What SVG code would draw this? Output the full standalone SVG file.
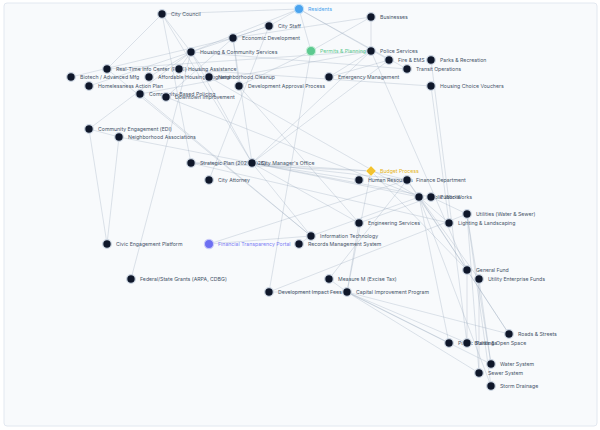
<svg xmlns="http://www.w3.org/2000/svg" width="600" height="430" viewBox="0 0 600 430">
<defs>
<style>
.bg{fill:#f8fafc;stroke:#e2e8f0;stroke-width:1}
.e line{stroke:#94a3b8;stroke-opacity:0.5;stroke-width:0.6}
.n circle{fill:#0f172a;stroke:#cbd5e1;stroke-width:1.2}
.n text{font-family:Inter,"Liberation Sans",sans-serif;font-size:5.2px;fill:#475569}
</style>
</defs>
<rect x="0" y="0" width="600" height="430" fill="#ffffff"/>
<rect class="bg" x="4" y="3" width="593" height="423" rx="3"/>
<g id="connectors" class="e">
<line x1="299" y1="9" x2="162" y2="14"/>
<line x1="299" y1="9" x2="269" y2="26"/>
<line x1="299" y1="9" x2="191" y2="52"/>
<line x1="299" y1="9" x2="311" y2="51"/>
<line x1="299" y1="9" x2="389" y2="60"/>
<line x1="299" y1="9" x2="407" y2="69"/>
<line x1="371" y1="17" x2="371" y2="51"/>
<line x1="371" y1="17" x2="311" y2="51"/>
<line x1="371" y1="17" x2="233" y2="38"/>
<line x1="162" y1="14" x2="191" y2="52"/>
<line x1="162" y1="14" x2="252" y2="163"/>
<line x1="162" y1="14" x2="191" y2="163"/>
<line x1="162" y1="14" x2="107" y2="69"/>
<line x1="269" y1="26" x2="233" y2="38"/>
<line x1="269" y1="26" x2="209" y2="180"/>
<line x1="269" y1="26" x2="191" y2="52"/>
<line x1="191" y1="52" x2="179" y2="69"/>
<line x1="191" y1="52" x2="149" y2="77"/>
<line x1="191" y1="52" x2="89" y2="86"/>
<line x1="191" y1="52" x2="209" y2="77"/>
<line x1="191" y1="52" x2="407" y2="69"/>
<line x1="179" y1="69" x2="431" y2="86"/>
<line x1="131" y1="279" x2="191" y2="52"/>
<line x1="233" y1="38" x2="71" y2="77"/>
<line x1="233" y1="38" x2="166" y2="97"/>
<line x1="233" y1="38" x2="239" y2="86"/>
<line x1="311" y1="51" x2="239" y2="86"/>
<line x1="311" y1="51" x2="269" y2="292"/>
<line x1="371" y1="51" x2="140" y2="94"/>
<line x1="371" y1="51" x2="107" y2="69"/>
<line x1="371" y1="51" x2="329" y2="77"/>
<line x1="371" y1="51" x2="467" y2="270"/>
<line x1="389" y1="60" x2="329" y2="77"/>
<line x1="431" y1="60" x2="467" y2="343"/>
<line x1="431" y1="86" x2="449" y2="223"/>
<line x1="252" y1="163" x2="371" y2="171"/>
<line x1="252" y1="163" x2="359" y2="180"/>
<line x1="252" y1="163" x2="407" y2="180"/>
<line x1="252" y1="163" x2="419" y2="197"/>
<line x1="252" y1="163" x2="431" y2="197"/>
<line x1="252" y1="163" x2="359" y2="223"/>
<line x1="252" y1="163" x2="311" y2="236"/>
<line x1="252" y1="163" x2="191" y2="163"/>
<line x1="252" y1="163" x2="371" y2="51"/>
<line x1="252" y1="163" x2="389" y2="60"/>
<line x1="252" y1="163" x2="191" y2="52"/>
<line x1="252" y1="163" x2="233" y2="38"/>
<line x1="191" y1="163" x2="371" y2="171"/>
<line x1="191" y1="163" x2="449" y2="223"/>
<line x1="371" y1="171" x2="407" y2="180"/>
<line x1="371" y1="171" x2="467" y2="270"/>
<line x1="371" y1="171" x2="347" y2="292"/>
<line x1="407" y1="180" x2="467" y2="270"/>
<line x1="407" y1="180" x2="479" y2="279"/>
<line x1="407" y1="180" x2="209" y2="244"/>
<line x1="419" y1="197" x2="509" y2="334"/>
<line x1="419" y1="197" x2="449" y2="343"/>
<line x1="419" y1="197" x2="449" y2="223"/>
<line x1="419" y1="197" x2="491" y2="386"/>
<line x1="419" y1="197" x2="209" y2="77"/>
<line x1="419" y1="197" x2="166" y2="97"/>
<line x1="431" y1="197" x2="467" y2="214"/>
<line x1="431" y1="197" x2="359" y2="223"/>
<line x1="359" y1="223" x2="347" y2="292"/>
<line x1="359" y1="223" x2="239" y2="86"/>
<line x1="311" y1="236" x2="299" y2="244"/>
<line x1="311" y1="236" x2="209" y2="244"/>
<line x1="311" y1="236" x2="107" y2="69"/>
<line x1="311" y1="236" x2="140" y2="94"/>
<line x1="311" y1="236" x2="419" y2="197"/>
<line x1="467" y1="214" x2="491" y2="364"/>
<line x1="467" y1="214" x2="479" y2="373"/>
<line x1="467" y1="214" x2="491" y2="386"/>
<line x1="479" y1="279" x2="491" y2="364"/>
<line x1="479" y1="279" x2="479" y2="373"/>
<line x1="467" y1="270" x2="509" y2="334"/>
<line x1="467" y1="270" x2="467" y2="343"/>
<line x1="329" y1="279" x2="347" y2="292"/>
<line x1="329" y1="279" x2="407" y2="180"/>
<line x1="269" y1="292" x2="347" y2="292"/>
<line x1="269" y1="292" x2="467" y2="214"/>
<line x1="347" y1="292" x2="509" y2="334"/>
<line x1="347" y1="292" x2="449" y2="343"/>
<line x1="347" y1="292" x2="467" y2="343"/>
<line x1="347" y1="292" x2="491" y2="364"/>
<line x1="347" y1="292" x2="479" y2="373"/>
<line x1="107" y1="244" x2="89" y2="129"/>
<line x1="107" y1="244" x2="119" y2="137"/>
<line x1="89" y1="129" x2="119" y2="137"/>
<line x1="89" y1="129" x2="191" y2="52"/>
<line x1="119" y1="137" x2="252" y2="163"/>
</g>
<g id="n-city-council" class="n"><circle cx="162" cy="14" r="4.3"/><text x="171" y="15.8">City Council</text></g>
<g id="n-residents" class="n"><circle cx="299" cy="9" r="4.6" style="fill:#4aa3ee;stroke:#bfe0fa"/><text x="308" y="10.8" style="fill:#4aa3ee">Residents</text></g>
<g id="n-city-staff" class="n"><circle cx="269" cy="26" r="4.3"/><text x="278" y="27.8">City Staff</text></g>
<g id="n-businesses" class="n"><circle cx="371" cy="17" r="4.3"/><text x="380" y="18.8">Businesses</text></g>
<g id="n-economic-development" class="n"><circle cx="233" cy="38" r="4.3"/><text x="242" y="39.8">Economic Development</text></g>
<g id="n-housing-community" class="n"><circle cx="191" cy="52" r="4.3"/><text x="200" y="53.8">Housing &amp; Community Services</text></g>
<g id="n-permits" class="n"><circle cx="311" cy="51" r="4.6" style="fill:#5cc98f;stroke:#c3ecd5"/><text x="320" y="52.8" style="fill:#5cc98f">Permits &amp; Planning</text></g>
<g id="n-police" class="n"><circle cx="371" cy="51" r="4.3"/><text x="380" y="52.8">Police Services</text></g>
<g id="n-fire" class="n"><circle cx="389" cy="60" r="4.3"/><text x="398" y="61.8">Fire &amp; EMS</text></g>
<g id="n-parks-rec" class="n"><circle cx="431" cy="60" r="4.3"/><text x="440" y="61.8">Parks &amp; Recreation</text></g>
<g id="n-transit" class="n"><circle cx="407" cy="69" r="4.3"/><text x="416" y="70.8">Transit Operations</text></g>
<g id="n-rtic" class="n"><circle cx="107" cy="69" r="4.3"/><text x="116" y="70.8">Real-Time Info Center (RTIC)</text></g>
<g id="n-housing-assistance" class="n"><circle cx="179" cy="69" r="4.3"/><text x="188" y="70.8">Housing Assistance</text></g>
<g id="n-biotech" class="n"><circle cx="71" cy="77" r="4.3"/><text x="80" y="78.8">Biotech / Advanced Mfg</text></g>
<g id="n-affordable" class="n"><circle cx="149" cy="77" r="4.3"/><text x="158" y="78.8">Affordable Housing Programs</text></g>
<g id="n-cleanup" class="n"><circle cx="209" cy="77" r="4.3"/><text x="218" y="78.8">Neighborhood Cleanup</text></g>
<g id="n-emergency" class="n"><circle cx="329" cy="77" r="4.3"/><text x="338" y="78.8">Emergency Management</text></g>
<g id="n-homelessness" class="n"><circle cx="89" cy="86" r="4.3"/><text x="98" y="87.8">Homelessness Action Plan</text></g>
<g id="n-dev-approval" class="n"><circle cx="239" cy="86" r="4.3"/><text x="248" y="87.8">Development Approval Process</text></g>
<g id="n-vouchers" class="n"><circle cx="431" cy="86" r="4.3"/><text x="440" y="87.8">Housing Choice Vouchers</text></g>
<g id="n-policing" class="n"><circle cx="140" cy="94" r="4.3"/><text x="149" y="95.8">Community-Based Policing</text></g>
<g id="n-downtown" class="n"><circle cx="166" cy="97" r="4.3"/><text x="175" y="98.8">Downtown Improvement</text></g>
<g id="n-engagement" class="n"><circle cx="89" cy="129" r="4.3"/><text x="98" y="130.8">Community Engagement (EDI)</text></g>
<g id="n-associations" class="n"><circle cx="119" cy="137" r="4.3"/><text x="128" y="138.8">Neighborhood Associations</text></g>
<g id="n-strategic" class="n"><circle cx="191" cy="163" r="4.3"/><text x="200" y="164.8">Strategic Plan (2021-2025)</text></g>
<g id="n-cmo" class="n"><circle cx="252" cy="163" r="4.3"/><text x="261" y="164.8">City Manager's Office</text></g>
<g id="n-attorney" class="n"><circle cx="209" cy="180" r="4.3"/><text x="218" y="181.8">City Attorney</text></g>
<g id="n-budget" class="n"><path d="M371 166 L376 171 L371 176 L366 171 Z" style="fill:#f2c230;stroke:#fae7a8;stroke-width:1"/><text x="380" y="172.8" style="fill:#e6b422">Budget Process</text></g>
<g id="n-hr" class="n"><circle cx="359" cy="180" r="4.3"/><text x="368" y="181.8">Human Resources</text></g>
<g id="n-finance" class="n"><circle cx="407" cy="180" r="4.3"/><text x="416" y="181.8">Finance Department</text></g>
<g id="n-public-works" class="n"><circle cx="419" cy="197" r="4.3"/><text x="428" y="198.8">Public Works</text></g>
<g id="n-public-works-2" class="n"><circle cx="431" cy="197" r="4.3"/><text x="440" y="198.8">Public Works</text></g>
<g id="n-utilities" class="n"><circle cx="467" cy="214" r="4.3"/><text x="476" y="215.8">Utilities (Water &amp; Sewer)</text></g>
<g id="n-lighting" class="n"><circle cx="449" cy="223" r="4.3"/><text x="458" y="224.8">Lighting &amp; Landscaping</text></g>
<g id="n-engineering" class="n"><circle cx="359" cy="223" r="4.3"/><text x="368" y="224.8">Engineering Services</text></g>
<g id="n-it" class="n"><circle cx="311" cy="236" r="4.3"/><text x="320" y="237.8">Information Technology</text></g>
<g id="n-records" class="n"><circle cx="299" cy="244" r="4.3"/><text x="308" y="245.8">Records Management System</text></g>
<g id="n-civic-platform" class="n"><circle cx="107" cy="244" r="4.3"/><text x="116" y="245.8">Civic Engagement Platform</text></g>
<g id="n-transparency" class="n"><circle cx="209" cy="244" r="4.6" style="fill:#6d6ff2;stroke:#c9caf9"/><text x="218" y="245.8" style="fill:#7b7ff5">Financial Transparency Portal</text></g>
<g id="n-general-fund" class="n"><circle cx="467" cy="270" r="4.3"/><text x="476" y="271.8">General Fund</text></g>
<g id="n-enterprise" class="n"><circle cx="479" cy="279" r="4.3"/><text x="488" y="280.8">Utility Enterprise Funds</text></g>
<g id="n-grants" class="n"><circle cx="131" cy="279" r="4.3"/><text x="140" y="280.8">Federal/State Grants (ARPA, CDBG)</text></g>
<g id="n-measure-m" class="n"><circle cx="329" cy="279" r="4.3"/><text x="338" y="280.8">Measure M (Excise Tax)</text></g>
<g id="n-impact-fees" class="n"><circle cx="269" cy="292" r="4.3"/><text x="278" y="293.8">Development Impact Fees</text></g>
<g id="n-cip" class="n"><circle cx="347" cy="292" r="4.3"/><text x="356" y="293.8">Capital Improvement Program</text></g>
<g id="n-roads" class="n"><circle cx="509" cy="334" r="4.3"/><text x="518" y="335.8">Roads &amp; Streets</text></g>
<g id="n-buildings" class="n"><circle cx="449" cy="343" r="4.3"/><text x="458" y="344.8">Public Buildings</text></g>
<g id="n-open-space" class="n"><circle cx="467" cy="343" r="4.3"/><text x="476" y="344.8">Parks &amp; Open Space</text></g>
<g id="n-water" class="n"><circle cx="491" cy="364" r="4.3"/><text x="500" y="365.8">Water System</text></g>
<g id="n-sewer" class="n"><circle cx="479" cy="373" r="4.3"/><text x="488" y="374.8">Sewer System</text></g>
<g id="n-storm" class="n"><circle cx="491" cy="386" r="4.3"/><text x="500" y="387.8">Storm Drainage</text></g>
</svg>
